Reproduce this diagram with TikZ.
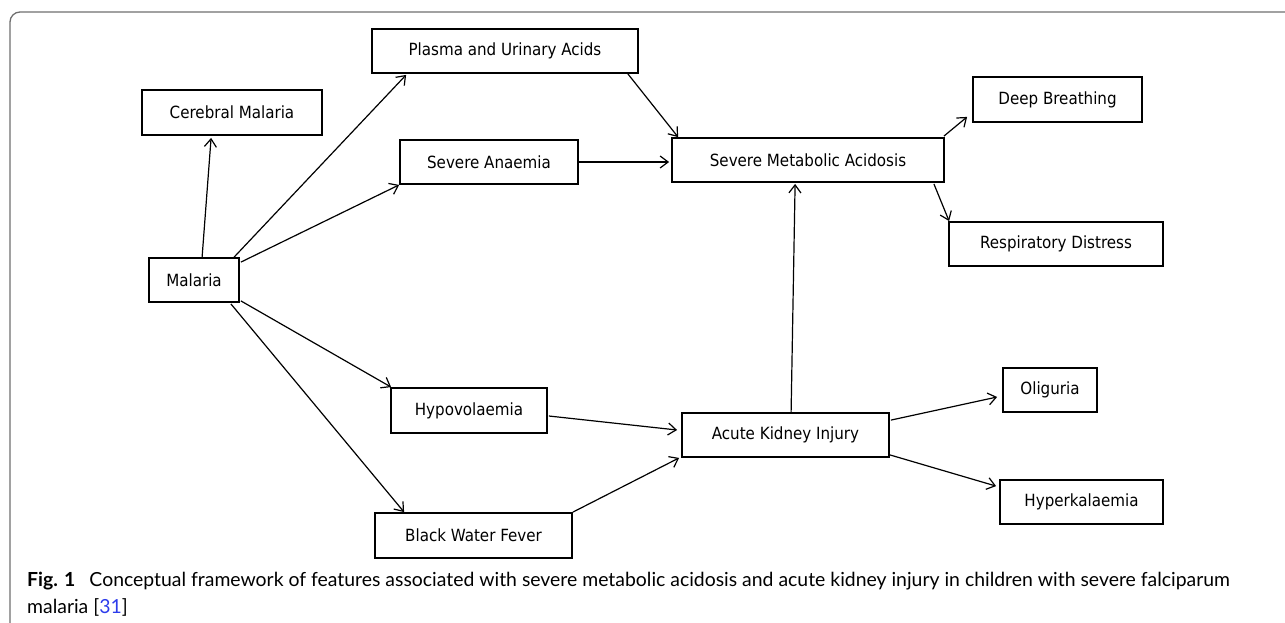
\documentclass[tikz,border=0pt]{standalone}
\usepackage{fontspec}
\setmainfont{DejaVu Sans Condensed}
\newfontfamily\capfont{Lato}
\usetikzlibrary{arrows.meta,calc}
\definecolor{framegray}{RGB}{110,110,110}
\definecolor{refblue}{RGB}{45,60,235}
\begin{document}
\begin{tikzpicture}[x=1pt,y=-1pt,
  box/.style={draw=black,line width=1.8pt,inner sep=0pt,font=\fontsize{16.8}{18}\selectfont,anchor=center},
  conn/.style={line width=1.2pt,-{Straight Barb[length=8pt,width=12pt,line width=1.2pt]}}]
\useasboundingbox (0,0) rectangle (1285,622);
\draw[framegray,line width=1.3pt,rounded corners=10pt] (10,630) -- (10,12) -- (1295,12);
% nodes
\node[box,minimum width=180pt,minimum height=45pt] (cereb) at (232,112.5) {Cerebral Malaria};
\node[box,minimum width=266pt,minimum height=44pt] (plasma) at (505,51) {Plasma and Urinary Acids};
\node[box,minimum width=178pt,minimum height=44pt] (anaemia) at (489,162) {Severe Anaemia};
\node[box,minimum width=272pt,minimum height=44pt] (sma) at (808,160) {Severe Metabolic Acidosis};
\node[box,minimum width=169pt,minimum height=45pt] (deep) at (1057.5,99.5) {Deep Breathing};
\node[box,minimum width=214pt,minimum height=44pt] (resp) at (1056,244) {Respiratory Distress};
\node[box,minimum width=90pt,minimum height=44pt] (malaria) at (194,280) {Malaria};
\node[box,minimum width=156pt,minimum height=45pt] (hypo) at (469,410.5) {Hypovolaemia};
\node[box,minimum width=207pt,minimum height=44pt] (aki) at (785.5,435) {Acute Kidney Injury};
\node[box,minimum width=94pt,minimum height=44pt] (oligo) at (1050,390) {Oliguria};
\node[box,minimum width=163pt,minimum height=44pt] (hyperk) at (1081.5,502) {Hyperkalaemia};
\node[box,minimum width=197pt,minimum height=45pt] (bwf) at (473.5,535.5) {Black Water Fever};
% connectors
\draw[conn] ($(malaria.north west)+(54,0)$) -- ($(cereb.south west)+(70,2)$);
\draw[conn] ($(malaria.north west)+(86,0)$) -- ($(plasma.south west)+(35,1)$);
\draw[conn] ($(malaria.north east)+(1,5)$) -- (anaemia.south west);
\draw[conn] ($(malaria.south east)+(1,-2)$) -- ($(hypo.north west)+(1,0)$);
\draw[conn] ($(malaria.south east)+(-9,1)$) -- ($(bwf.north west)+(30,0)$);
\draw[conn] ($(plasma.south east)+(-11,0)$) -- ($(sma.north west)+(7,0)$);
\draw[conn] (anaemia.east) -- ($(sma.west)+(-2,2)$);
\draw[conn] ($(sma.north east)+(-1,-1)$) -- ($(deep.south west)+(-5,-6)$);
\draw[conn] ($(sma.south east)+(-11,1)$) -- ($(resp.north west)+(1,0)$);
\draw[conn] ($(aki.north west)+(110,0)$) -- ($(sma.south west)+(124,1)$);
\draw[conn] ($(hypo.east)+(1,5.5)$) -- ($(aki.west)+(-4,-5)$);
\draw[conn] (bwf.north east) -- ($(aki.south west)+(-2,0)$);
\draw[conn] ($(aki.north east)+(1,8)$) -- ($(oligo.west)+(-5,7)$);
\draw[conn] ($(aki.south east)+(0,-3)$) -- ($(hyperk.north west)+(-3,7)$);
% caption
\node[anchor=base west,inner sep=0pt,font=\capfont\fontsize{19.4}{24}\selectfont] (cap1) at (27,586)
  {\textbf{Fig. 1}\hspace{14pt}Conceptual framework of features associated with severe metabolic acidosis and acute kidney injury in children with severe falciparum};
\node[anchor=base west,inner sep=0pt,font=\capfont\fontsize{19.4}{24}\selectfont] (cap2) at (27,613)
  {malaria [\textcolor{refblue}{31}]};
\end{tikzpicture}
\end{document}
